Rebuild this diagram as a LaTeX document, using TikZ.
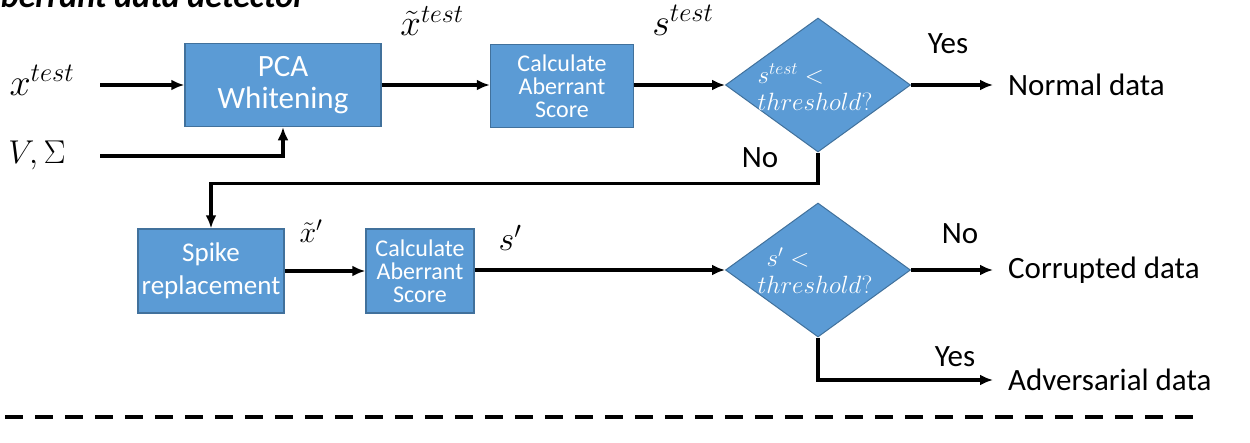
\RequirePackage{fix-cm}
\documentclass[tikz,border=0pt]{standalone}
\usepackage{fontspec}
\setmainfont{Carlito}
\usetikzlibrary{arrows.meta,shapes.geometric}
\definecolor{boxblue}{HTML}{5B9BD5}
\definecolor{boxedge}{HTML}{41719C}
\begin{document}
\begin{tikzpicture}[x=1pt,y=-1pt,
  blk/.style={draw=boxedge,line width=1.5pt,fill=boxblue,text=white,align=center,inner sep=0pt},
  dia/.style={diamond,draw=boxedge,line width=1pt,fill=boxblue,inner sep=0pt,minimum width=185pt,minimum height=134pt},
  diatext/.style={text=white,align=left,font=\fontsize{25}{27}\selectfont,inner sep=0pt},
  lbl/.style={font=\fontsize{38}{40}\selectfont,inner sep=0pt},
  yn/.style={font=\fontsize{31}{33}\selectfont,inner sep=0pt},
  outtext/.style={font=\fontsize{31}{34}\selectfont,anchor=west,inner sep=0pt},
  arr/.style={line width=3.2pt,-{Latex[length=13pt,width=11pt]}}
]
\useasboundingbox (0,0) rectangle (1250,442);
\clip (0,0) rectangle (1250,442);
% title (cut off at top)
\node[anchor=base west,inner sep=0pt,font=\fontsize{34}{38}\selectfont\bfseries\itshape] (title) at (-20,7) {Aberrant data detector};
% row 1
\node[lbl] (xt) at (42,80) {$x^{test}$};
\node[lbl,font=\fontsize{33}{36}\selectfont] (vs) at (37,155) {$V,\Sigma$};
\coordinate (xs) at (100,85);
\coordinate (vsstart) at (100,156);
\node[blk,minimum width=196pt,minimum height=83pt,font=\fontsize{31}{32}\selectfont] (pca) at (283,85) {PCA\\Whitening};
\node[blk,minimum width=143pt,minimum height=83pt,font=\fontsize{24}{23}\selectfont] (calc1) at (562,86) {Calculate\\Aberrant\\Score};
\node[dia] (d1) at (818,85) {};
\node[diatext] (d1t) at (815,87) {$s^{test}<$\\$threshold?$};
\node[lbl,font=\fontsize{37}{40}\selectfont] (xtil) at (432,21) {$\tilde{x}^{test}$};
\node[lbl] (stest) at (683,20) {$s^{test}$};
\node[outtext] (normal) at (1008,85) {Normal data};
\node[yn] (yes1) at (948,44) {Yes};
\node[yn] (no1) at (760,158) {No};
% row 2
\node[blk,minimum width=146pt,minimum height=84pt,font=\fontsize{27}{33}\selectfont] (spike) at (211,271) {Spike\\replacement};
\node[blk,minimum width=108pt,minimum height=84pt,font=\fontsize{24}{23}\selectfont] (calc2) at (420,271) {Calculate\\Aberrant\\Score};
\node[dia] (d2) at (818,270) {};
\node[diatext] (d2t) at (815,271) {\hspace{9pt}$s'<$\\$threshold?$};
\node[lbl,font=\fontsize{30}{32}\selectfont] (xp) at (311,231) {$\tilde{x}'$};
\node[lbl,font=\fontsize{34}{36}\selectfont] (sp) at (510,238) {$s'$};
\node[outtext] (corr) at (1008,270) {Corrupted data};
\node[outtext] (adv) at (1008,380) {Adversarial data};
\node[yn] (no2) at (960,234) {No};
\node[yn] (yes2) at (955,357) {Yes};
% connectors
\draw[arr] (xs) -- (pca.west |- xs);
\draw[arr] (vsstart) -| (pca.south);
\draw[arr] (pca.east) -- (calc1.west |- pca.east);
\draw[arr] (calc1.east |- pca.east) -- (d1.west);
\draw[arr,shorten >=15pt] (d1.east) -- (normal.west);
\draw[arr] (d1.south) -- ++(0,31) -| (spike.north);
\draw[arr] (spike.east) -- (calc2.west);
\draw[arr] (calc2.east |- d2.west) -- (d2.west);
\draw[arr,shorten >=15pt] (d2.east) -- (corr.west);
\draw[arr,shorten >=15pt] (d2.south) |- (adv.west);
% separator
\draw[line width=4pt,dash pattern=on 18pt off 12pt] (5,417) -- (1195,417);
\end{tikzpicture}
\end{document}
